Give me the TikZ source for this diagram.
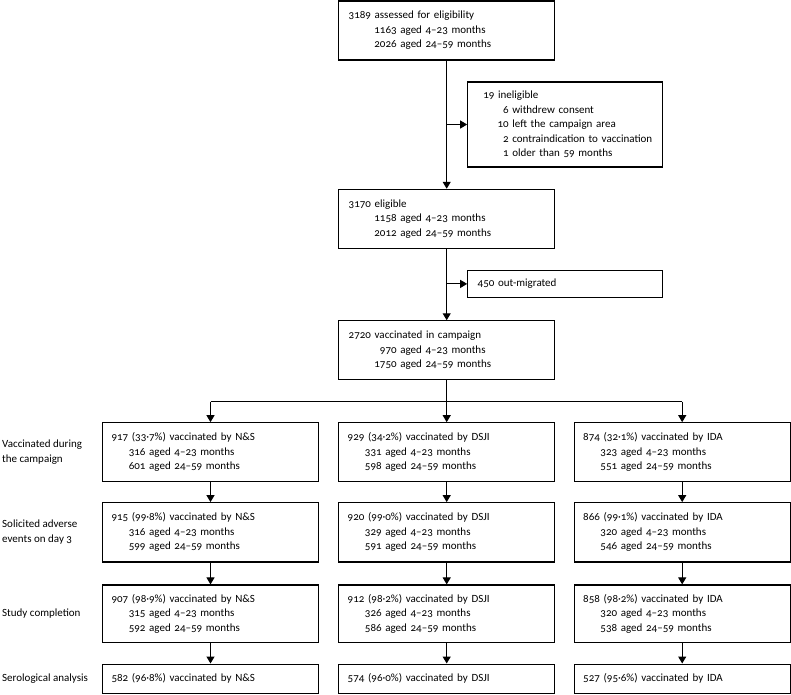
\documentclass[tikz,border=0pt]{standalone}
\usepackage{fontspec}
\setmainfont{Carlito}[Numbers=OldStyle]
\usetikzlibrary{arrows.meta}

% one indented line: right edge of the count, count, rest of the line
\newcommand{\agerow}[3]{\hspace*{#1}\llap{#2} #3}

\begin{document}
\begin{tikzpicture}[x=10pt,y=10pt]
        \tikzstyle{every node}+=[font=\fontsize{11}{14.5}\selectfont]
        \tikzstyle{flowbox}=[draw, line width=1.1pt, inner xsep=10pt, inner ysep=0pt, align=left]
        \tikzstyle{mainbox}=[flowbox, text width=196pt, minimum height=59pt]
        \tikzstyle{sidebox}=[flowbox, text width=175pt]
        \tikzstyle{armbox}=[flowbox, inner xsep=9pt, text width=198pt]
        \tikzstyle{rowlabel}=[anchor=west, inner sep=0pt, align=left]
        \tikzstyle{flow}=[line width=1.1pt, -{Triangle[length=7pt,width=8pt]}]
        \useasboundingbox (0,0) rectangle (79.1,-69.4);
        % main column
        \draw (44.67,-3.05) node [mainbox] (assessed) {3189 assessed for eligibility\\
          \agerow{48pt}{1163}{aged 4--23 months}\\
          \agerow{48pt}{2026}{aged 24--59 months}};
        \draw (56.52,-12.45) node [sidebox, minimum height=85pt] (ineligible) {\hspace*{5.6pt}19 ineligible\\
          \agerow{31pt}{6}{withdrew consent}\\
          \agerow{31pt}{10}{left the campaign area}\\
          \agerow{31pt}{2}{contraindication to vaccination}\\
          \agerow{31pt}{1}{older than 59 months}};
        \draw (44.67,-21.88) node [mainbox] (eligible) {3170 eligible\\
          \agerow{48pt}{1158}{aged 4--23 months}\\
          \agerow{48pt}{2012}{aged 24--59 months}};
        \draw (56.52,-28.39) node [sidebox, minimum height=27.7pt] (outmigrated) {450 out-migrated};
        \draw (44.67,-35.03) node [mainbox] (campaign) {2720 vaccinated in campaign\\
          \agerow{48pt}{970}{aged 4--23 months}\\
          \agerow{48pt}{1750}{aged 24--59 months}};
        \draw [flow] (assessed) -- (eligible);
        \draw [flow] (assessed.south |- ineligible.west) -- (ineligible);
        \draw [flow] (eligible) -- (campaign);
        \draw [flow] (eligible.south |- outmigrated.west) -- (outmigrated);
        % row labels
        \draw (0.2,-45.22) node [rowlabel] (lab1) {Vaccinated during\\the campaign};
        \draw (0.2,-53.23) node [rowlabel] (lab2) {Solicited adverse\\events on day 3};
        \draw (0.2,-61.38) node [rowlabel] (lab3) {Study completion};
        \draw (0.2,-67.87) node [rowlabel] (lab4) {Serological analysis};
        % N&S
        \draw (21.05,-45.22) node [armbox, minimum height=59pt] (ns1) {917 (33·7\%) vaccinated by N\&S\\
          \agerow{34pt}{316}{aged 4--23 months}\\
          \agerow{34pt}{601}{aged 24--59 months}};
        \draw (21.05,-53.23) node [armbox, minimum height=59.3pt] (ns2) {915 (99·8\%) vaccinated by N\&S\\
          \agerow{34pt}{316}{aged 4--23 months}\\
          \agerow{34pt}{599}{aged 24--59 months}};
        \draw (21.05,-61.38) node [armbox, minimum height=57.7pt] (ns3) {907 (98·9\%) vaccinated by N\&S\\
          \agerow{34pt}{315}{aged 4--23 months}\\
          \agerow{34pt}{592}{aged 24--59 months}};
        \draw (21.05,-67.87) node [armbox, minimum height=29.3pt] (ns4) {582 (96·8\%) vaccinated by N\&S};
        % DSJI
        \draw (44.67,-45.22) node [armbox, minimum height=59pt] (dsji1) {929 (34·2\%) vaccinated by DSJI\\
          \agerow{34pt}{331}{aged 4--23 months}\\
          \agerow{34pt}{598}{aged 24--59 months}};
        \draw (44.67,-53.23) node [armbox, minimum height=59.3pt] (dsji2) {920 (99·0\%) vaccinated by DSJI\\
          \agerow{34pt}{329}{aged 4--23 months}\\
          \agerow{34pt}{591}{aged 24--59 months}};
        \draw (44.67,-61.38) node [armbox, minimum height=57.7pt] (dsji3) {912 (98·2\%) vaccinated by DSJI\\
          \agerow{34pt}{326}{aged 4--23 months}\\
          \agerow{34pt}{586}{aged 24--59 months}};
        \draw (44.67,-67.87) node [armbox, minimum height=29.3pt] (dsji4) {574 (96·0\%) vaccinated by DSJI};
        % IDA
        \draw (68.22,-45.22) node [armbox, minimum height=59pt] (ida1) {874 (32·1\%) vaccinated by IDA\\
          \agerow{34pt}{323}{aged 4--23 months}\\
          \agerow{34pt}{551}{aged 24--59 months}};
        \draw (68.22,-53.23) node [armbox, minimum height=59.3pt] (ida2) {866 (99·1\%) vaccinated by IDA\\
          \agerow{34pt}{320}{aged 4--23 months}\\
          \agerow{34pt}{546}{aged 24--59 months}};
        \draw (68.22,-61.38) node [armbox, minimum height=57.7pt] (ida3) {858 (98·2\%) vaccinated by IDA\\
          \agerow{34pt}{320}{aged 4--23 months}\\
          \agerow{34pt}{538}{aged 24--59 months}};
        \draw (68.22,-67.87) node [armbox, minimum height=29.3pt] (ida4) {527 (95·6\%) vaccinated by IDA};
        % split into the three arms
        \draw [line width=1.1pt] (campaign) -- (44.67,-40.17) coordinate (split);
        \draw [line width=1.1pt] (split -| ns1.north) -- (split -| ida1.north);
        \draw [flow] (split -| ns1.north) -- (ns1);
        \draw [flow] (split) -- (dsji1);
        \draw [flow] (split -| ida1.north) -- (ida1);
        \draw [flow] (ns1) -- (ns2);
        \draw [flow] (ns2) -- (ns3);
        \draw [flow] (ns3) -- (ns4);
        \draw [flow] (dsji1) -- (dsji2);
        \draw [flow] (dsji2) -- (dsji3);
        \draw [flow] (dsji3) -- (dsji4);
        \draw [flow] (ida1) -- (ida2);
        \draw [flow] (ida2) -- (ida3);
        \draw [flow] (ida3) -- (ida4);
    \end{tikzpicture}
\end{document}
